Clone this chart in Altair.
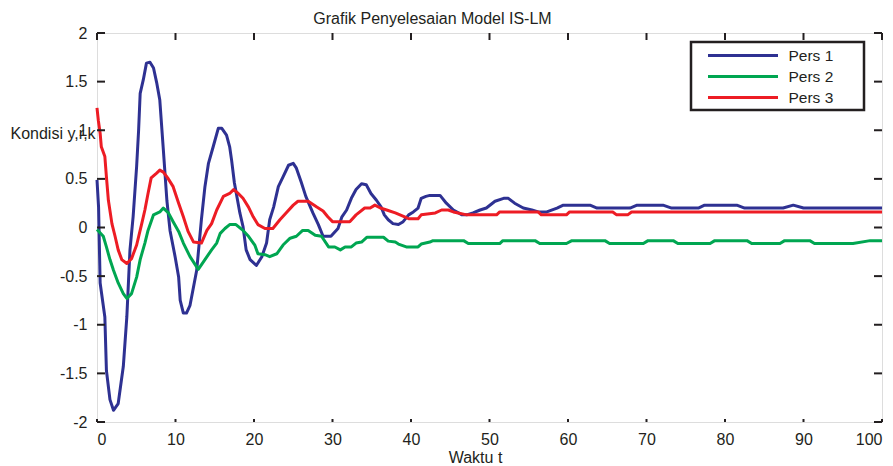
import altair as alt
import pandas as pd

chart_title = "Grafik Penyelesaian Model IS-LM"
x_title = "Waktu t"
y_title = "Kondisi y,r,k"
series_names = ["Pers 1", "Pers 2", "Pers 3"]
series_colors = ["#2e3192", "#00a651", "#ed1c24"]
x_ticks = [0, 10, 20, 30, 40, 50, 60, 70, 80, 90, 100]
y_ticks = [-2, -1.5, -1, -0.5, 0, 0.5, 1, 1.5, 2]

# Pers 1
t1 = [0, 0.2, 0.4, 1.0, 1.2, 1.65, 2.1, 2.7, 3.35, 3.8, 4.2, 4.6, 5.05, 5.3, 5.5, 5.9, 6.3, 6.75, 7.2, 7.6,
      8.0, 8.45, 8.9, 9.3, 9.95, 10.4, 10.6, 11.0, 11.4, 11.85, 12.7, 13.3, 13.75, 14.2, 14.8, 15.45, 15.9, 16.5, 16.9, 17.15,
      17.5, 18.2, 18.6, 19.0, 19.5, 20.3, 21.0, 21.6, 22.0, 22.5, 23.1, 23.7, 24.4, 25.0, 25.4, 26.0, 26.6, 27.5, 28.2, 28.8,
      29.8, 30.7, 31.2, 31.8, 32.4, 33.0, 33.7, 34.3, 34.9, 35.6, 36.2, 36.6, 37.1, 37.7, 38.4, 39.0, 39.7, 40.3, 40.9, 41.3,
      41.9, 42.4, 43.7, 44.5, 45.4, 46.5, 47.1, 47.9, 48.8, 49.6, 50.7, 51.8, 52.4, 53.2, 54.3, 55.4, 56.2, 57.3, 58.6, 59.4,
      62.8, 63.7, 67.9, 68.8, 72.1, 73.2, 76.6, 77.4, 81.5, 82.5, 87.4, 88.7, 90.0, 100]
v1 = [0.49, 0.21, -0.57, -0.92, -1.47, -1.77, -1.88, -1.81, -1.43, -0.92, -0.23, 0.11, 0.63, 1.0, 1.38, 1.52, 1.69, 1.70, 1.64, 1.49,
      1.31, 0.8, 0.28, -0.03, -0.30, -0.51, -0.75, -0.88, -0.88, -0.8, -0.44, 0.08, 0.42, 0.66, 0.83, 1.02, 1.02, 0.95, 0.83, 0.69,
      0.46, 0.15, 0.01, -0.23, -0.33, -0.39, -0.30, -0.16, 0.08, 0.21, 0.42, 0.52, 0.64, 0.66, 0.61, 0.47, 0.32, 0.15, 0.03, -0.09,
      -0.09, -0.01, 0.11, 0.18, 0.30, 0.39, 0.45, 0.44, 0.35, 0.28, 0.21, 0.13, 0.08, 0.04, 0.03, 0.06, 0.13, 0.16, 0.20, 0.30,
      0.32, 0.33, 0.33, 0.25, 0.18, 0.13, 0.13, 0.15, 0.18, 0.20, 0.27, 0.30, 0.30, 0.25, 0.20, 0.18, 0.16, 0.16, 0.20, 0.23,
      0.23, 0.20, 0.20, 0.23, 0.23, 0.20, 0.20, 0.23, 0.23, 0.20, 0.20, 0.23, 0.20, 0.20]

# Pers 2
t2 = [0, 0.8, 1.2, 1.65, 2.1, 2.7, 3.35, 3.8, 4.4, 5.05, 5.5, 6.1, 6.5, 7.2, 8.0, 8.45, 9.1, 9.7, 10.4, 11.0,
      11.85, 12.9, 13.75, 14.6, 15.25, 15.7, 16.3, 16.9, 17.7, 18.6, 19.3, 20.1, 20.5, 21.4, 22.0, 22.9, 23.7, 24.6, 25.4, 26.2,
      26.9, 27.8, 28.6, 29.5, 30.3, 31.0, 31.6, 32.4, 33.0, 33.7, 34.4, 36.5, 37.1, 38.0, 38.4, 39.4, 40.9, 41.3, 42.4, 42.8,
      46.7, 47.3, 51.3, 51.7, 55.8, 56.4, 59.8, 60.5, 64.7, 65.3, 69.6, 70.2, 73.4, 74.0, 78.1, 78.7, 82.8, 83.4, 87.0, 87.6,
      90.8, 91.4, 96.3, 98.5, 100]
v2 = [-0.02, -0.09, -0.2, -0.33, -0.44, -0.57, -0.68, -0.73, -0.68, -0.51, -0.33, -0.16, -0.03, 0.13, 0.16, 0.2, 0.15, 0.06, -0.04, -0.16,
      -0.3, -0.43, -0.33, -0.23, -0.16, -0.06, -0.01, 0.03, 0.03, -0.03, -0.09, -0.18, -0.27, -0.28, -0.3, -0.27, -0.18, -0.11, -0.09, -0.03,
      -0.03, -0.08, -0.09, -0.2, -0.2, -0.23, -0.2, -0.2, -0.16, -0.15, -0.1, -0.1, -0.14, -0.15, -0.17, -0.2, -0.2, -0.17, -0.15, -0.135,
      -0.135, -0.165, -0.165, -0.135, -0.135, -0.165, -0.165, -0.135, -0.135, -0.165, -0.165, -0.135, -0.135, -0.165, -0.165, -0.135, -0.135, -0.165, -0.165, -0.135,
      -0.135, -0.165, -0.165, -0.135, -0.135]

# Pers 3
t3 = [0, 0.17, 0.4, 0.55, 1.0, 1.2, 1.45, 1.9, 2.3, 2.7, 3.15, 3.8, 4.4, 5.05, 5.7, 6.1, 6.5, 6.9, 7.6, 8.0,
      8.45, 9.0, 9.7, 10.4, 11.0, 11.6, 12.3, 13.3, 14.0, 14.6, 15.25, 16.1, 16.9, 17.4, 18.0, 18.6, 19.3, 19.9, 20.5, 21.4,
      22.4, 23.3, 24.2, 25.0, 25.6, 26.9, 28.0, 28.8, 29.4, 30.0, 32.2, 33.0, 34.1, 34.8, 35.4, 36.1, 36.9, 38.0, 39.2, 39.7,
      40.9, 41.3, 43.1, 43.9, 44.75, 45.4, 46.0, 47.1, 50.9, 51.3, 56.2, 56.6, 59.8, 60.2, 65.7, 66.2, 67.6, 68.1, 100]
v3 = [1.23, 1.1, 0.97, 0.83, 0.73, 0.52, 0.28, 0.04, -0.09, -0.23, -0.33, -0.37, -0.32, -0.18, 0.04, 0.18, 0.35, 0.51, 0.56, 0.59,
      0.57, 0.51, 0.42, 0.25, 0.11, -0.04, -0.15, -0.16, -0.03, 0.04, 0.18, 0.32, 0.35, 0.39, 0.35, 0.30, 0.21, 0.11, 0.03, -0.01,
      -0.01, 0.08, 0.16, 0.23, 0.27, 0.27, 0.21, 0.17, 0.11, 0.06, 0.06, 0.13, 0.20, 0.20, 0.23, 0.20, 0.18, 0.15, 0.11, 0.09,
      0.09, 0.13, 0.15, 0.18, 0.18, 0.16, 0.15, 0.13, 0.13, 0.16, 0.16, 0.13, 0.13, 0.16, 0.16, 0.13, 0.13, 0.16, 0.16]

rows = []
for name, ts, vs in zip(series_names, [t1, t2, t3], [v1, v2, v3]):
    for i, (t, v) in enumerate(zip(ts, vs)):
        rows.append({"series": name, "t": t, "v": v, "i": i})
df = pd.DataFrame(rows)

W, H = 785, 389
FONT = "Liberation Sans"
INK = "#231f20"

xscale = alt.Scale(domain=[0, 100], nice=False, zero=False)
yscale = alt.Scale(domain=[-2, 2], nice=False, zero=False)

xaxis = alt.Axis(values=x_ticks, labelExpr="'' + datum.value", title=x_title,
                 domain=False, ticks=False, grid=False, labelPadding=9,
                 labelFontSize=16, labelFont=FONT, labelColor=INK,
                 titleFontSize=16, titleFont=FONT, titleColor=INK, titleFontWeight="normal",
                 titleX=378, titleY=27, titleBaseline="top", titleAlign="center")
yaxis = alt.Axis(values=y_ticks, labelExpr="'' + datum.value", title=y_title,
                 domain=False, ticks=False, grid=False, labelPadding=10,
                 labelFontSize=16, labelFont=FONT, labelColor=INK,
                 titleFontSize=16, titleFont=FONT, titleColor=INK, titleFontWeight="normal",
                 titleAngle=0, titleX=-87, titleY=100, titleAlign="left", titleBaseline="middle")

lines = alt.Chart(df).mark_line(strokeWidth=3, strokeJoin="round").encode(
    x=alt.X("t:Q", scale=xscale, axis=xaxis),
    y=alt.Y("v:Q", scale=yscale, axis=yaxis),
    color=alt.Color("series:N",
                    scale=alt.Scale(domain=series_names, range=series_colors),
                    legend=alt.Legend(title=None, orient="none", legendX=594, legendY=9,
                                      symbolType="stroke", symbolSize=4900, symbolStrokeWidth=3,
                                      clipHeight=19, rowPadding=2, padding=4,
                                      symbolOffset=11.5, labelOffset=9,
                                      labelFontSize=15.5, labelFont=FONT, labelColor=INK)),
    order="i:Q",
)

one = pd.DataFrame({"k": [0]})
legend_box = alt.Chart(one).mark_rect(fill="white", stroke=INK, strokeWidth=2.5).encode(
    x=alt.value(594), x2=alt.value(767), y=alt.value(9), y2=alt.value(77))

title_mark = alt.Chart(pd.DataFrame({"label": [chart_title]})).mark_text(
    font=FONT, fontSize=16, color=INK, align="center", baseline="alphabetic").encode(
    text="label:N", x=alt.value(335.5), y=alt.value(-9))

xt = pd.DataFrame({"t": x_ticks})
yt = pd.DataFrame({"v": y_ticks})
tick_style = dict(color=INK, strokeWidth=2)
bottom_ticks = alt.Chart(xt).mark_rule(**tick_style).encode(
    x=alt.X("t:Q", scale=xscale, axis=xaxis), y=alt.value(H), y2=alt.value(H - 3))
top_ticks = alt.Chart(xt).mark_rule(**tick_style).encode(
    x=alt.X("t:Q", scale=xscale, axis=xaxis), y=alt.value(0), y2=alt.value(7))
left_ticks = alt.Chart(yt).mark_rule(**tick_style).encode(
    y=alt.Y("v:Q", scale=yscale, axis=yaxis), x=alt.value(0), x2=alt.value(8))
right_ticks = alt.Chart(yt).mark_rule(**tick_style).encode(
    y=alt.Y("v:Q", scale=yscale, axis=yaxis), x=alt.value(W - 8), x2=alt.value(W))

chart = alt.layer(legend_box, lines, bottom_ticks, top_ticks, left_ticks, right_ticks, title_mark).properties(
    width=W, height=H,
    autosize=alt.AutoSizeParams(type="none"),
    padding={"left": 97, "top": 33, "right": 11, "bottom": 44},
).configure_view(stroke=INK, strokeWidth=2.5).configure(background="white")

chart.save("out.html", embed_options={"renderer": "svg", "actions": False})
